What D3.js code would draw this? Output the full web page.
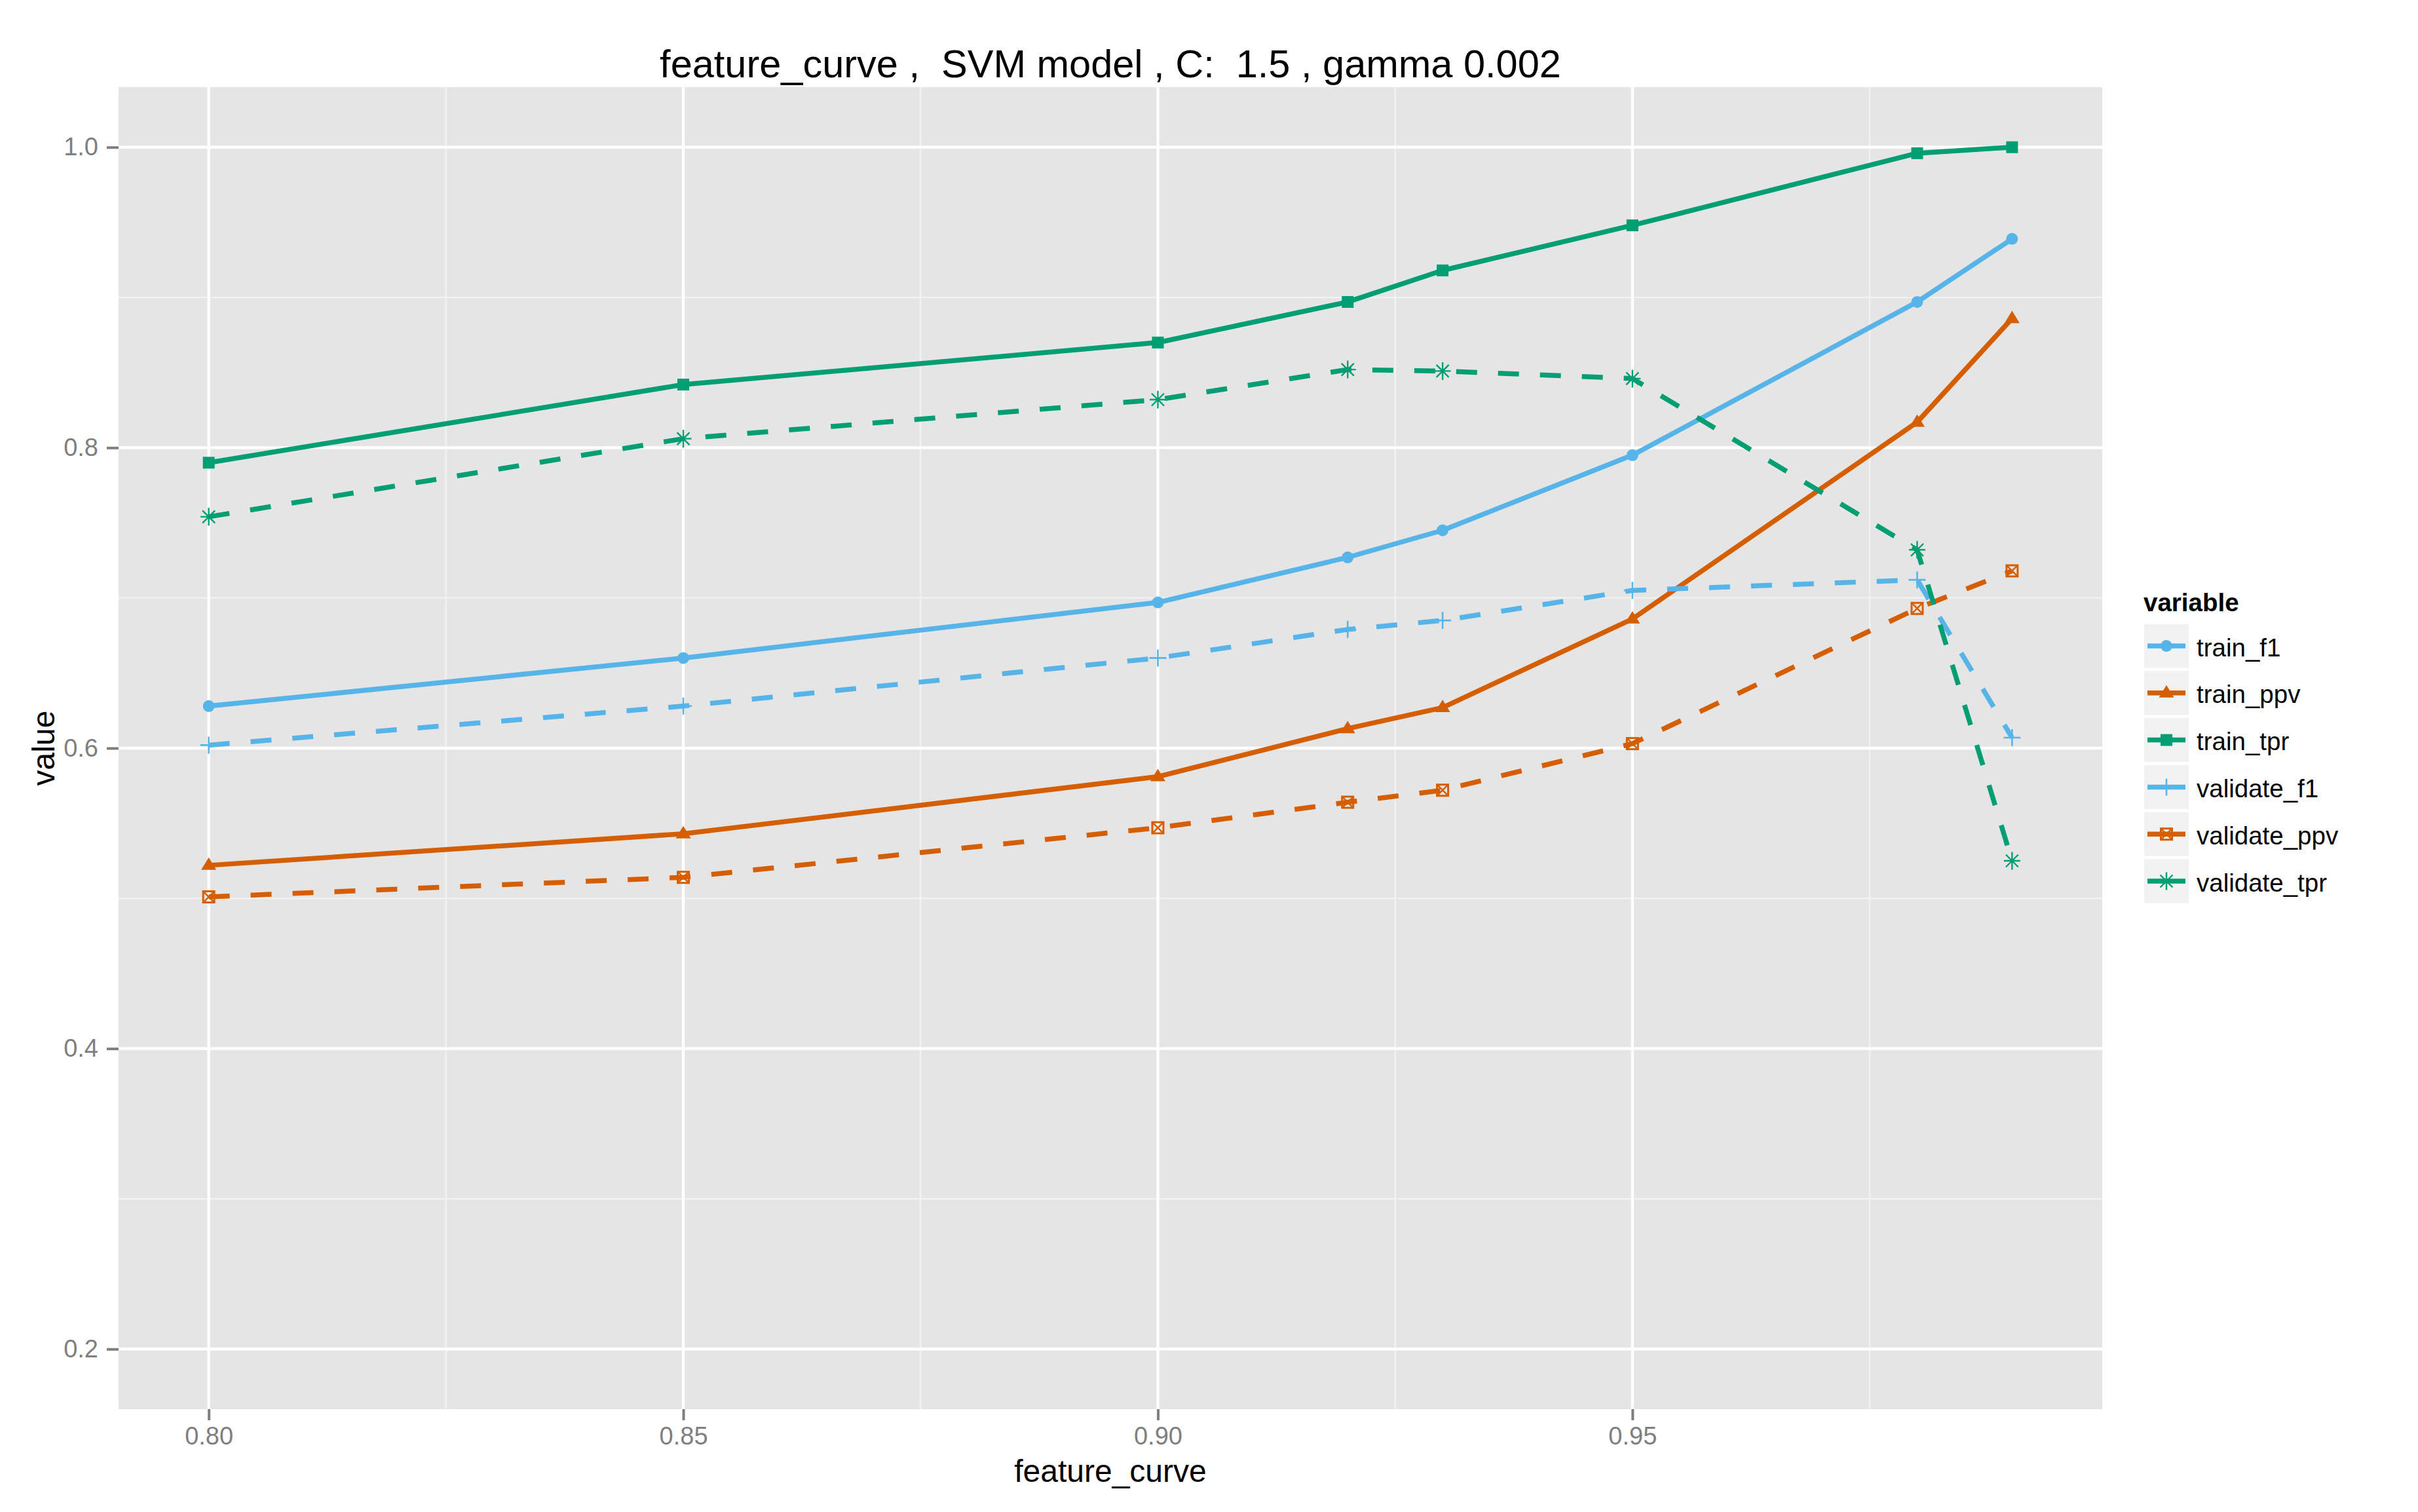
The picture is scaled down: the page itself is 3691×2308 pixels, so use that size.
<!DOCTYPE html>
<html>
<head>
<meta charset="utf-8">
<script src="https://cdn.jsdelivr.net/npm/d3@7"></script>
<style>
  body { margin: 0; background: #fff; }
  text { font-family: "Liberation Sans", Arial, sans-serif; }
</style>
</head>
<body>
<div id="chart"></div>
<script>
// values
const featureCurve = [0.80, 0.85, 0.90, 0.92, 0.93, 0.95, 0.98, 0.99];
const trainF1      = [0.628, 0.660, 0.697, 0.727, 0.745, 0.795, 0.897, 0.939];
const trainPpv     = [0.522, 0.543, 0.581, 0.613, 0.627, 0.686, 0.817, 0.886];
const trainTpr     = [0.790, 0.842, 0.870, 0.897, 0.918, 0.948, 0.996, 1.000];
const validateF1   = [0.602, 0.628, 0.660, 0.679, 0.685, 0.705, 0.712, 0.607];
const validatePpv  = [0.501, 0.514, 0.547, 0.564, 0.572, 0.603, 0.693, 0.718];
const validateTpr  = [0.754, 0.806, 0.832, 0.852, 0.851, 0.846, 0.732, 0.525];

const seriesNames = ["train_f1", "train_ppv", "train_tpr", "validate_f1", "validate_ppv", "validate_tpr"];
const seriesValues = [trainF1, trainPpv, trainTpr, validateF1, validatePpv, validateTpr];
const xTicks = [0.80, 0.85, 0.90, 0.95];
const xTickLabels = ["0.80", "0.85", "0.90", "0.95"];
const xMinor = [0.825, 0.875, 0.925, 0.975];
const yTicks = [0.2, 0.4, 0.6, 0.8, 1.0];
const yTickLabels = ["0.2", "0.4", "0.6", "0.8", "1.0"];
const yMinor = [0.3, 0.5, 0.7, 0.9];

const width = 3691;
const height = 2308;
const panel = { left: 181, right: 3209, top: 133, bottom: 2151 };

const colorFor = name => name.endsWith("f1") ? "#56B4E9" : name.endsWith("ppv") ? "#D55E00" : "#009E73";
const dashed = name => name.startsWith("validate");

const series = seriesNames.map((name, i) => ({
  name: name,
  points: featureCurve.map((x, j) => ({ x: x, y: seriesValues[i][j] }))
}));

const svg = d3.select("#chart").append("svg")
  .attr("width", width)
  .attr("height", height);

svg.append("rect").attr("width", width).attr("height", height).attr("fill", "#fff");

const xScale = d3.scaleLinear().domain([0.7905, 0.9995]).range([panel.left, panel.right]);
const yScale = d3.scaleLinear().domain([0.16, 1.04]).range([panel.bottom, panel.top]);

// panel
svg.append("rect")
  .attr("x", panel.left).attr("y", panel.top)
  .attr("width", panel.right - panel.left).attr("height", panel.bottom - panel.top)
  .attr("fill", "#e5e5e5");

const grid = svg.append("g");
grid.selectAll(".xminor").data(xMinor).enter().append("line")
  .attr("x1", d => xScale(d)).attr("x2", d => xScale(d))
  .attr("y1", panel.top).attr("y2", panel.bottom)
  .attr("stroke", "#f2f2f2").attr("stroke-width", 2.3);
grid.selectAll(".yminor").data(yMinor).enter().append("line")
  .attr("y1", d => yScale(d)).attr("y2", d => yScale(d))
  .attr("x1", panel.left).attr("x2", panel.right)
  .attr("stroke", "#f2f2f2").attr("stroke-width", 2.3);
grid.selectAll(".xmajor").data(xTicks).enter().append("line")
  .attr("x1", d => xScale(d)).attr("x2", d => xScale(d))
  .attr("y1", panel.top).attr("y2", panel.bottom)
  .attr("stroke", "#fff").attr("stroke-width", 4.3);
grid.selectAll(".ymajor").data(yTicks).enter().append("line")
  .attr("y1", d => yScale(d)).attr("y2", d => yScale(d))
  .attr("x1", panel.left).attr("x2", panel.right)
  .attr("stroke", "#fff").attr("stroke-width", 4.3);

// axes
const xAxis = d3.axisBottom(xScale)
  .tickValues(xTicks)
  .tickFormat((d, i) => xTickLabels[i])
  .tickSize(17).tickPadding(10);
const gx = svg.append("g")
  .attr("transform", `translate(0,${panel.bottom})`)
  .call(xAxis);
gx.select(".domain").remove();
gx.selectAll("line").attr("stroke", "#7f7f7f").attr("stroke-width", 4);
gx.selectAll("text").attr("fill", "#7f7f7f").attr("font-size", 38)
  .attr("font-family", "Liberation Sans, Arial, sans-serif");

const yAxis = d3.axisLeft(yScale)
  .tickValues(yTicks)
  .tickFormat((d, i) => yTickLabels[i])
  .tickSize(18).tickPadding(13);
const gy = svg.append("g")
  .attr("transform", `translate(${panel.left},0)`)
  .call(yAxis);
gy.select(".domain").remove();
gy.selectAll("line").attr("stroke", "#7f7f7f").attr("stroke-width", 4);
gy.selectAll("text").attr("fill", "#7f7f7f").attr("font-size", 38)
  .attr("font-family", "Liberation Sans, Arial, sans-serif");

// lines
const line = d3.line().x(d => xScale(d.x)).y(d => yScale(d.y));
svg.append("g").selectAll("path").data(series).enter().append("path")
  .attr("d", d => line(d.points))
  .attr("fill", "none")
  .attr("stroke", d => colorFor(d.name))
  .attr("stroke-width", 7.5)
  .attr("stroke-linejoin", "round")
  .attr("stroke-dasharray", d => dashed(d.name) ? "32,32" : null);

// point shapes
function drawShape(g, name) {
  const c = colorFor(name);
  if (name === "train_f1") {
    g.append("circle").attr("r", 9).attr("fill", c);
  } else if (name === "train_ppv") {
    g.append("path").attr("d", "M0,-12L11.5,7L-11.5,7Z").attr("fill", c);
  } else if (name === "train_tpr") {
    g.append("rect").attr("x", -9).attr("y", -9).attr("width", 18).attr("height", 18).attr("fill", c);
  } else if (name === "validate_f1") {
    g.append("path").attr("d", "M-13,0H13M0,-13V13")
      .attr("stroke", c).attr("stroke-width", 2.6).attr("fill", "none");
  } else if (name === "validate_ppv") {
    g.append("rect").attr("x", -8.5).attr("y", -8.5).attr("width", 17).attr("height", 17)
      .attr("stroke", c).attr("stroke-width", 3).attr("fill", "none");
    g.append("path").attr("d", "M-8.5,-8.5L8.5,8.5M8.5,-8.5L-8.5,8.5")
      .attr("stroke", c).attr("stroke-width", 2.5).attr("fill", "none");
  } else {
    g.append("path").attr("d", "M-12.5,0H12.5M0,-13.5V13.5M-9.5,-9.5L9.5,9.5M9.5,-9.5L-9.5,9.5")
      .attr("stroke", c).attr("stroke-width", 2.4).attr("fill", "none");
  }
}

const pointGroups = svg.append("g").selectAll("g").data(series).enter().append("g");
pointGroups.each(function (s) {
  d3.select(this).selectAll("g").data(s.points).enter().append("g")
    .attr("transform", d => `translate(${xScale(d.x)},${yScale(d.y)})`)
    .each(function () { drawShape(d3.select(this), s.name); });
});

// titles
svg.append("text")
  .attr("x", (panel.left + panel.right) / 2).attr("y", 118)
  .attr("text-anchor", "middle")
  .attr("font-size", 59.5)
  .style("white-space", "pre")
  .text("feature_curve ,  SVM model , C:  1.5 , gamma 0.002");

svg.append("text")
  .attr("x", (panel.left + panel.right) / 2).attr("y", 2262)
  .attr("text-anchor", "middle")
  .attr("font-size", 48)
  .text("feature_curve");

svg.append("text")
  .attr("transform", `translate(83,${(panel.top + panel.bottom) / 2}) rotate(-90)`)
  .attr("text-anchor", "middle")
  .attr("font-size", 48)
  .text("value");

// legend
const legend = svg.append("g").attr("transform", "translate(3272,0)");
legend.append("text")
  .attr("x", 0).attr("y", 933)
  .attr("font-size", 38.5).attr("font-weight", "bold")
  .text("variable");

const keys = legend.selectAll(".key").data(seriesNames).enter().append("g")
  .attr("transform", (d, i) => `translate(1,${952.5 + i * 71.8})`);
keys.append("rect")
  .attr("width", 68).attr("height", 67)
  .attr("fill", "#f2f2f2");
keys.append("line")
  .attr("x1", 5).attr("x2", 63).attr("y1", 33.5).attr("y2", 33.5)
  .attr("stroke", d => colorFor(d)).attr("stroke-width", 7.5);
keys.append("g")
  .attr("transform", "translate(34,33.5)")
  .each(function (d) { drawShape(d3.select(this), d); });
keys.append("text")
  .attr("x", 80).attr("y", 49)
  .attr("font-size", 38.5)
  .text(d => d);
</script>
</body>
</html>
